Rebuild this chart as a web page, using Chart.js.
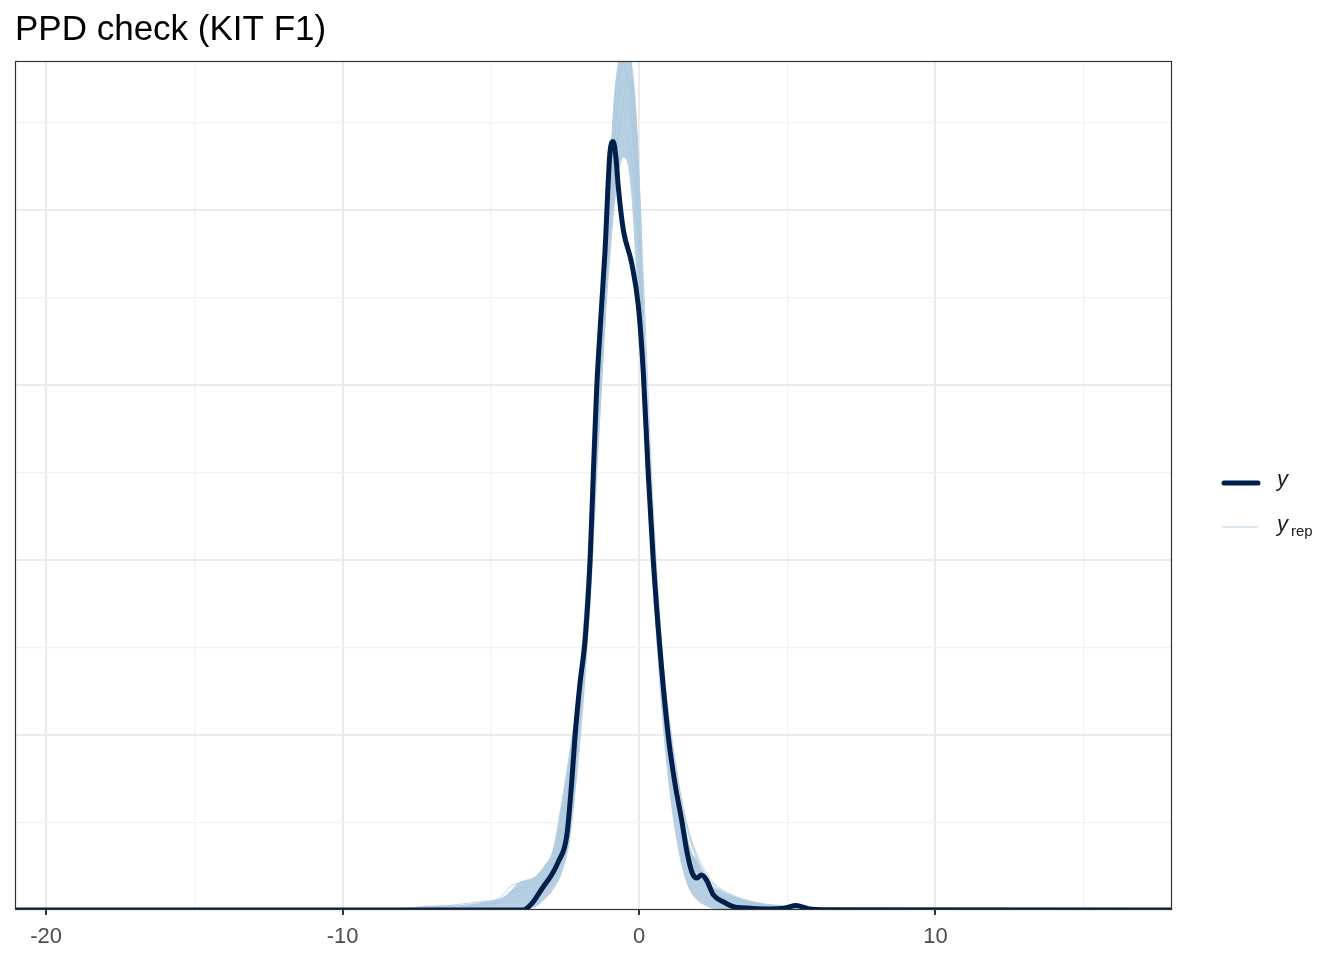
<!DOCTYPE html>
<html>
<head>
<meta charset="utf-8">
<title>PPD check (KIT F1)</title>
<script src="https://cdn.jsdelivr.net/npm/chart.js@4/dist/chart.umd.min.js"></script>
<style>
  body { margin: 0; background: #fff; }
  #wrap { width: 1344px; height: 960px; }
</style>
</head>
<body>
<div id="wrap"><canvas id="myChart" width="1344" height="960"></canvas></div>
<script>
// observed density (y)
const obsX = [-21.05, -3.9, -3.6, -3.23, -2.95, -2.72, -2.44, -2.27, -2.16, -1.99, -1.82, -1.65, -1.54, -1.43, -1.3, -1.15, -0.98, -0.87, -0.78, -0.7, -0.53, -0.25, -0.02, 0.145, 0.31, 0.48, 0.71, 0.99, 1.21, 1.44, 1.62, 1.8, 1.95, 2.11, 2.28, 2.51, 2.84, 3.18, 3.6, 4.3, 4.9, 5.3, 5.7, 6.3, 17.98];
const obsY = [0, 0, 0.004, 0.0133, 0.02, 0.0276, 0.042, 0.073, 0.099, 0.1297, 0.154, 0.2, 0.2497, 0.297, 0.335, 0.3754, 0.4326, 0.439, 0.43, 0.4133, 0.3886, 0.3697, 0.3447, 0.3069, 0.2497, 0.2, 0.1486, 0.099, 0.0726, 0.0514, 0.033, 0.021, 0.0183, 0.02, 0.0171, 0.0086, 0.0047, 0.0019, 0.0012, 0.0006, 0.001, 0.0025, 0.0008, 0.0002, 0];

// spread of the replicated densities (upper / lower edge of the band)
const envX  = [-6.0, -5.2, -4.7, -4.4, -4.1, -3.8, -3.5, -3.2, -2.9, -2.6, -2.3, -2.0, -1.8, -1.6, -1.45, -1.3, -1.15, -1.0, -0.85, -0.7, -0.55, -0.4, -0.25, -0.1, 0.05, 0.2, 0.35, 0.5, 0.7, 0.9, 1.1, 1.3, 1.5, 1.7, 1.95, 2.2, 2.5, 2.8, 3.2, 3.8, 4.4, 5.2, 6.2];
const envHi = [0.0015, 0.004, 0.006, 0.009, 0.015, 0.017, 0.019, 0.025, 0.034, 0.062, 0.094, 0.131, 0.162, 0.22, 0.27, 0.33, 0.385, 0.41, 0.46, 0.483, 0.49, 0.49, 0.483, 0.455, 0.398, 0.32, 0.258, 0.21, 0.158, 0.116, 0.087, 0.068, 0.05, 0.035, 0.028, 0.019, 0.013, 0.0105, 0.0075, 0.0045, 0.0025, 0.0015, 0.0008];
const envLo = [0, 0, 0, 0, 0, 0.001, 0.002, 0.006, 0.012, 0.022, 0.045, 0.1, 0.14, 0.19, 0.245, 0.29, 0.335, 0.37, 0.4, 0.42, 0.43, 0.428, 0.41, 0.37, 0.32, 0.27, 0.225, 0.18, 0.13, 0.09, 0.06, 0.038, 0.022, 0.012, 0.006, 0.003, 0.001, 0, 0, 0, 0, 0, 0];

// a few individual replicated densities (y_rep)
const repX = [-21.05, -9.5, -9.2, -8.9, -7.6, -7.1, -6.5, -5.8, -5.2, -4.7, -4.3, -3.9, -3.5, -3.1, -2.7, -2.3, -1.9, -1.5, -1.2, -0.9, -0.6, -0.35, -0.1, 0.15, 0.45, 0.8, 1.2, 1.6, 2.0, 2.5, 3.1, 3.8, 4.6, 5.6, 7.0, 9.0, 17.98];
const rep1 = [0, 0, 0.0009, 0, 0.0012, 0.0022, 0.0018, 0.003, 0.0045, 0.007, 0.014, 0.016, 0.018, 0.026, 0.045, 0.085, 0.155, 0.26, 0.35, 0.445, 0.485, 0.47, 0.41, 0.3, 0.2, 0.125, 0.072, 0.04, 0.024, 0.012, 0.007, 0.0035, 0.002, 0.0012, 0.0005, 0.0002, 0];
const rep2 = [0, 0, 0, 0, 0.0008, 0.0016, 0.0025, 0.002, 0.004, 0.005, 0.009, 0.012, 0.015, 0.02, 0.036, 0.07, 0.14, 0.25, 0.34, 0.425, 0.47, 0.475, 0.43, 0.33, 0.22, 0.13, 0.075, 0.043, 0.022, 0.011, 0.006, 0.003, 0.0016, 0.001, 0.0004, 0, 0];
const rep3 = [0, 0, 0, 0, 0, 0.0012, 0.0015, 0.0028, 0.0035, 0.0045, 0.007, 0.009, 0.011, 0.017, 0.03, 0.06, 0.13, 0.245, 0.335, 0.415, 0.455, 0.46, 0.42, 0.34, 0.225, 0.135, 0.08, 0.047, 0.027, 0.014, 0.008, 0.004, 0.0022, 0.0012, 0.0006, 0.0002, 0];
const rep4 = [0, 0, 0, 0, 0, 0, 0.001, 0.0018, 0.003, 0.004, 0.005, 0.006, 0.009, 0.013, 0.024, 0.05, 0.115, 0.225, 0.32, 0.405, 0.455, 0.475, 0.45, 0.36, 0.24, 0.145, 0.088, 0.05, 0.03, 0.016, 0.009, 0.005, 0.0024, 0.0016, 0.0008, 0.0003, 0];
const rep5 = [0, 0, 0, 0, 0.0014, 0.002, 0.0024, 0.0038, 0.005, 0.006, 0.01, 0.014, 0.017, 0.023, 0.04, 0.078, 0.15, 0.255, 0.345, 0.43, 0.48, 0.488, 0.44, 0.32, 0.21, 0.125, 0.07, 0.038, 0.02, 0.01, 0.006, 0.003, 0.0018, 0.0009, 0.0004, 0, 0];
const rep6 = [0, 0, 0, 0, 0, 0.0011, 0.0014, 0.002, 0.0032, 0.0055, 0.011, 0.013, 0.014, 0.019, 0.033, 0.066, 0.135, 0.24, 0.33, 0.41, 0.445, 0.44, 0.4, 0.325, 0.23, 0.14, 0.085, 0.05, 0.028, 0.015, 0.008, 0.0045, 0.0028, 0.0015, 0.0008, 0.0003, 0];
const reps = [rep1, rep2, rep3, rep4, rep5, rep6];

// axes
const xTicks = [-20, -15, -10, -5, 0, 5, 10, 15];
const xLabelled = [-20, -10, 0, 10];
const yGrid = [0.05, 0.1, 0.15, 0.2, 0.25, 0.3, 0.35, 0.4, 0.45];

const darkBlue = "#011f4b";
const lightBlue = "#d1e1ec";

function pts(xs, ys) {
  return xs.map((x, i) => ({ x: x, y: ys[i] }));
}

Chart.defaults.font.family = "'Liberation Sans', Arial, sans-serif";

const datasets = [];
datasets.push({
  label: "y",
  data: pts(obsX, obsY),
  borderColor: darkBlue,
  borderWidth: 5,
  borderCapStyle: "round",
  borderJoinStyle: "round",
  cubicInterpolationMode: "monotone",
  pointRadius: 0,
  fill: false,
  order: 0
});
datasets.push({
  label: "band hi",
  data: pts(envX, envHi),
  borderColor: "rgba(179,205,224,0.9)",
  borderWidth: 1,
  backgroundColor: "#b6cfe2",
  cubicInterpolationMode: "monotone",
  pointRadius: 0,
  fill: "+1",
  order: 2
});
datasets.push({
  label: "band lo",
  data: pts(envX, envLo),
  borderColor: "rgba(179,205,224,0.9)",
  borderWidth: 1,
  cubicInterpolationMode: "monotone",
  pointRadius: 0,
  fill: false,
  order: 2
});
reps.forEach((r, i) => {
  datasets.push({
    label: "y_rep " + (i + 1),
    data: pts(repX, r),
    borderColor: "rgba(172,200,221,0.8)",
    borderWidth: 1,
    cubicInterpolationMode: "monotone",
    pointRadius: 0,
    fill: false,
    order: 1
  });
});

const panelBorder = {
  id: "panelBorder",
  afterDraw(chart) {
    const a = chart.chartArea;
    const c = chart.ctx;
    c.save();
    c.strokeStyle = "#333333";
    c.lineWidth = 1.2;
    c.strokeRect(a.left + 0.5, a.top + 0.5, a.right - a.left - 1, a.bottom - a.top - 1);
    c.restore();
  }
};

const ppdLegend = {
  id: "ppdLegend",
  afterDraw(chart) {
    const c = chart.ctx;
    c.save();
    c.lineCap = "round";
    c.strokeStyle = darkBlue;
    c.lineWidth = 5;
    c.beginPath();
    c.moveTo(1224, 483);
    c.lineTo(1258, 483);
    c.stroke();
    c.lineCap = "butt";
    c.strokeStyle = lightBlue;
    c.lineWidth = 1.5;
    c.beginPath();
    c.moveTo(1222, 527);
    c.lineTo(1258, 527);
    c.stroke();
    c.fillStyle = "#1a1a1a";
    c.textBaseline = "alphabetic";
    c.font = "italic 22px 'Liberation Sans', Arial, sans-serif";
    c.fillText("y", 1277, 486);
    c.fillText("y", 1277, 531);
    c.font = "15px 'Liberation Sans', Arial, sans-serif";
    c.fillText("rep", 1291, 536);
    c.restore();
  }
};

const ctx = document.getElementById("myChart").getContext("2d");
let myChart = new Chart(ctx, {
  type: "line",
  data: { datasets: datasets },
  options: {
    responsive: false,
    animation: false,
    layout: { padding: { left: 15, right: 172, top: 0, bottom: 0 } },
    plugins: {
      legend: { display: false },
      tooltip: { enabled: false },
      title: {
        display: true,
        text: "PPD check (KIT F1)",
        align: "start",
        color: "#000000",
        font: { size: 35, weight: "normal", lineHeight: 1.2 },
        padding: { top: 9, bottom: 10 }
      }
    },
    scales: {
      x: {
        type: "linear",
        min: -21.05,
        max: 17.98,
        afterBuildTicks: (scale) => { scale.ticks = xTicks.map(v => ({ value: v })); },
        afterFit: (scale) => { scale.height = 50; },
        ticks: {
          autoSkip: false,
          maxRotation: 0,
          padding: 9,
          color: "#4d4d4d",
          font: { size: 22 },
          callback: (v) => xLabelled.includes(v) ? String(v) : ""
        },
        grid: {
          color: (c) => xLabelled.includes(c.tick.value) ? "#ebebeb" : "#f2f2f2",
          lineWidth: (c) => xLabelled.includes(c.tick.value) ? 2 : 1.2,
          tickColor: (c) => xLabelled.includes(c.tick.value) ? "#333333" : "rgba(0,0,0,0)",
          tickWidth: 2,
          tickLength: 5
        },
        border: { display: false }
      },
      y: {
        type: "linear",
        min: 0,
        max: 0.485,
        afterBuildTicks: (scale) => { scale.ticks = yGrid.map(v => ({ value: v })); },
        afterFit: (scale) => { scale.width = 0; },
        ticks: { display: false },
        grid: {
          drawTicks: false,
          color: (c) => Math.round(c.tick.value * 100) % 10 === 0 ? "#ebebeb" : "#f2f2f2",
          lineWidth: (c) => Math.round(c.tick.value * 100) % 10 === 0 ? 2 : 1.2
        },
        border: { display: false }
      }
    }
  },
  plugins: [panelBorder, ppdLegend]
});
</script>
</body>
</html>
